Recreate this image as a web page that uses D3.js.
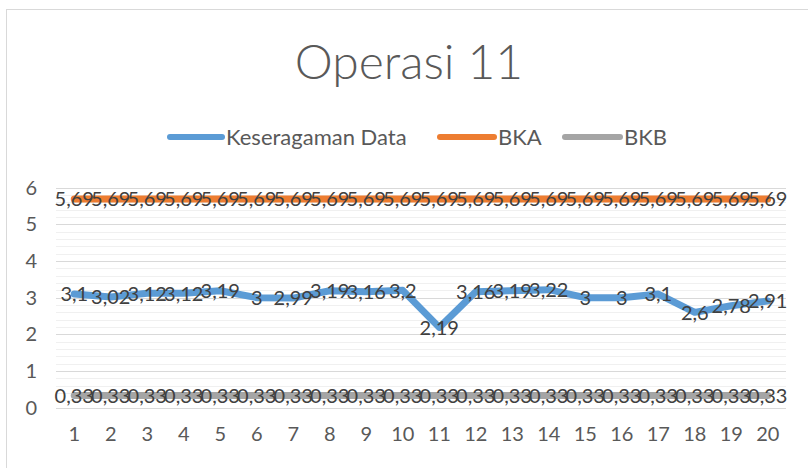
<!DOCTYPE html>
<html>
<head>
<meta charset="utf-8">
<script src="https://cdn.jsdelivr.net/npm/d3@7"></script>
<style>
  body { margin: 0; background: #fff; }
  svg { font-family: Lato, 'Open Sans', sans-serif; }
</style>
</head>
<body>
<svg id="chart" width="808" height="468"></svg>
<script>
// chart data
var categories = ['1','2','3','4','5','6','7','8','9','10','11','12','13','14','15','16','17','18','19','20'];
var keseragaman = [3.1, 3.02, 3.12, 3.12, 3.19, 3, 2.99, 3.19, 3.16, 3.2, 2.19, 3.16, 3.19, 3.22, 3, 3, 3.1, 2.6, 2.78, 2.91];
var bka = [5.69, 5.69, 5.69, 5.69, 5.69, 5.69, 5.69, 5.69, 5.69, 5.69, 5.69, 5.69, 5.69, 5.69, 5.69, 5.69, 5.69, 5.69, 5.69, 5.69];
var bkb = [0.33, 0.33, 0.33, 0.33, 0.33, 0.33, 0.33, 0.33, 0.33, 0.33, 0.33, 0.33, 0.33, 0.33, 0.33, 0.33, 0.33, 0.33, 0.33, 0.33];
var seriesNames = ['Keseragaman Data', 'BKA', 'BKB'];
var yTicks = [0, 1, 2, 3, 4, 5, 6];

var series = [
    { name: seriesNames[0], values: keseragaman, color: '#5b9bd5' },
    { name: seriesNames[1], values: bka, color: '#ed7d31' },
    { name: seriesNames[2], values: bkb, color: '#a5a5a5' }
];

var svg = d3.select('svg#chart');

// outer chart border (cropped on the right/bottom like the source)
svg.append('rect')
    .attr('x', 6.5).attr('y', 9.5)
    .attr('width', 900).attr('height', 600)
    .attr('fill', 'none')
    .attr('stroke', '#d9d9d9');

var plotLeft = 56, plotRight = 786, plotTop = 187.7, plotBottom = 407.7;

var x = d3.scaleBand().domain(categories).range([plotLeft, plotRight]);
var y = d3.scaleLinear().domain([0, 6]).range([plotBottom, plotTop]);

// minor gridlines
var minor = d3.range(0, 6.01, 0.2).filter(function (v) { return Math.abs(v - Math.round(v)) > 0.01; });
svg.append('g').selectAll('line')
    .data(minor)
    .enter().append('line')
    .attr('x1', plotLeft).attr('x2', plotRight)
    .attr('y1', function (d) { return Math.round(y(d)) + 0.5; })
    .attr('y2', function (d) { return Math.round(y(d)) + 0.5; })
    .attr('stroke', '#f0f0f0');

// major gridlines
svg.append('g').selectAll('line')
    .data(yTicks)
    .enter().append('line')
    .attr('x1', plotLeft).attr('x2', plotRight)
    .attr('y1', function (d) { return Math.round(y(d)) + 0.5; })
    .attr('y2', function (d) { return Math.round(y(d)) + 0.5; })
    .attr('stroke', '#d9d9d9');

// y axis labels
var yAxis = d3.axisLeft(y).tickValues(yTicks).tickFormat(d3.format('d')).tickSize(0).tickPadding(0);
var gy = svg.append('g')
    .attr('transform', 'translate(37,0)')
    .call(yAxis);
gy.select('.domain').remove();
gy.selectAll('text')
    .attr('font-size', 20).attr('fill', '#595959')
    .attr('font-family', 'Lato, sans-serif');

// x axis labels
var xAxis = d3.axisBottom(x).tickSize(0).tickPadding(0);
var gx = svg.append('g')
    .attr('transform', 'translate(0,427)')
    .call(xAxis);
gx.select('.domain').remove();
gx.selectAll('text')
    .attr('font-size', 20).attr('fill', '#595959')
    .attr('font-family', 'Lato, sans-serif');

var line = d3.line()
    .x(function (d, i) { return x(categories[i]) + x.bandwidth() / 2; })
    .y(function (d) { return y(d); });

var lines = svg.append('g').attr('class', 'lines');
series.forEach(function (s) {
    lines.append('path')
        .datum(s.values)
        .attr('fill', 'none')
        .attr('stroke', s.color)
        .attr('stroke-width', 7)
        .attr('stroke-linejoin', 'round')
        .attr('stroke-linecap', 'round')
        .attr('d', line);
});

// data labels, centred on each point
var fmt = function (v) { return String(v).replace('.', ','); };
series.forEach(function (s) {
    svg.append('g').selectAll('text')
        .data(s.values)
        .enter().append('text')
        .attr('x', function (d, i) { return x(categories[i]) + x.bandwidth() / 2; })
        .attr('y', function (d) { return y(d); })
        .attr('dy', '0.36em')
        .attr('text-anchor', 'middle')
        .attr('font-size', 20)
        .attr('fill', '#404040')
        .text(fmt);
});

// title
svg.append('text')
    .attr('x', 409).attr('y', 79)
    .attr('text-anchor', 'middle')
    .attr('font-size', 48)
    .attr('font-weight', 300)
    .attr('fill', '#595959')
    .text('Operasi 11');

// legend
var legendItems = [
    { x: 170, w: 52 },
    { x: 440, w: 54 },
    { x: 565, w: 55 }
];
var legend = svg.append('g').attr('class', 'legend');
series.forEach(function (s, i) {
    var it = legendItems[i];
    legend.append('line')
        .attr('x1', it.x).attr('x2', it.x + it.w)
        .attr('y1', 137).attr('y2', 137)
        .attr('stroke', s.color)
        .attr('stroke-width', 6)
        .attr('stroke-linecap', 'round');
    legend.append('text')
        .attr('x', it.x + it.w + 4).attr('y', 137)
        .attr('dy', '0.36em')
        .attr('font-size', 22)
        .attr('fill', '#595959')
        .text(s.name);
});
</script>
</body>
</html>
